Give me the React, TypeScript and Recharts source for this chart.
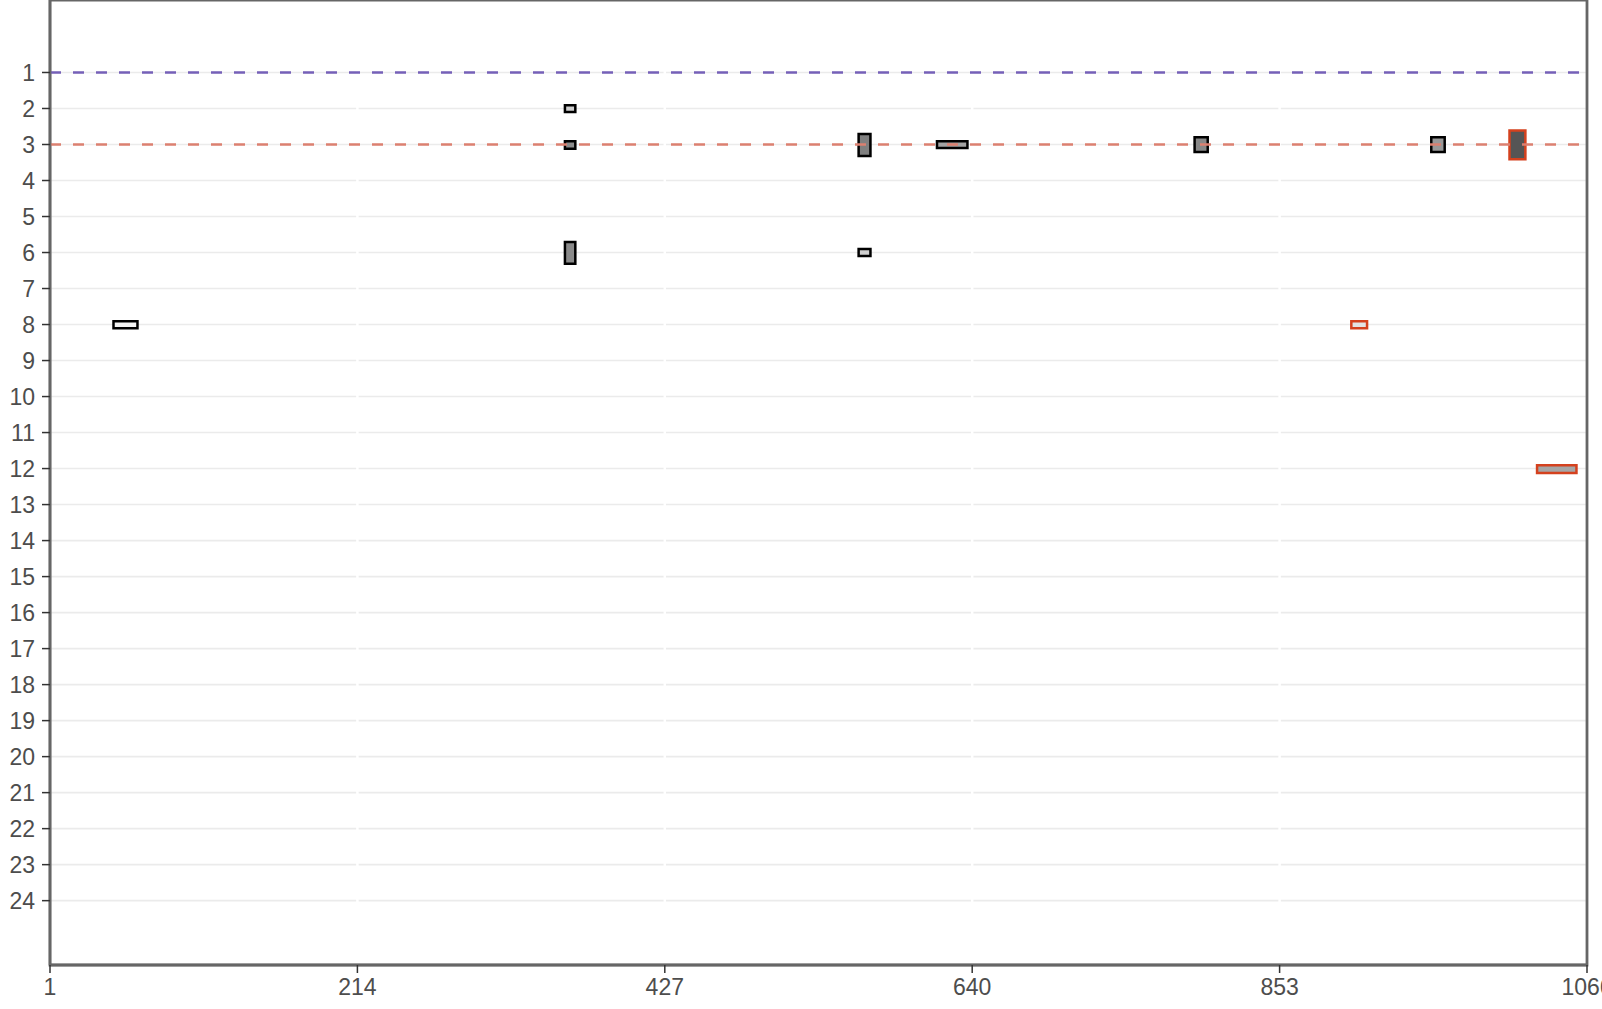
import React from 'react';
import { ComposedChart, XAxis, YAxis, CartesianGrid, ReferenceArea, ReferenceLine } from 'recharts';

const xTicks = [1, 214, 427, 640, 853, 1066];
const yTicks = [1, 2, 3, 4, 5, 6, 7, 8, 9, 10, 11, 12, 13, 14, 15, 16, 17, 18, 19, 20, 21, 22, 23, 24];
const xDomain = [1, 1066];
const yDomain = [-1.013, 25.787];

const boxStart = [45.0, 357.8, 357.8, 357.8, 561.3, 561.3, 615.6, 794.1, 958.1, 1012.3, 902.7, 1031.4];
const boxEnd = [61.6, 365.0, 365.0, 365.0, 569.5, 569.5, 636.7, 803.2, 967.4, 1023.3, 913.6, 1058.7];
const boxLow = [7.91, 1.91, 2.91, 5.71, 2.71, 5.9, 2.91, 2.8, 2.8, 2.61, 7.91, 11.91];
const boxHigh = [8.1, 2.1, 3.12, 6.31, 3.32, 6.1, 3.1, 3.21, 3.21, 3.41, 8.1, 12.12];
const boxFill = ['#f4f4f4', '#cfcfcf', '#8c8c8c', '#8a8a8a', '#7f7f7f', '#cfcfcf', '#a3a3a3', '#888888', '#999999', '#555555', '#e3e3e3', '#a6a6a6'];
const boxStroke = ['#000000', '#000000', '#000000', '#000000', '#000000', '#000000', '#000000', '#000000', '#000000', '#d4411e', '#d4411e', '#d4411e'];

const refLevels = [1, 3];
const refColors = ['#7560b8', '#dc8070'];

const boxes = boxStart.map((s, i) => ({
  x1: s,
  x2: boxEnd[i],
  y1: boxLow[i],
  y2: boxHigh[i],
  fill: boxFill[i],
  stroke: boxStroke[i],
}));

const tickStyle = { fill: '#4d4d4d', fontSize: 23, fontFamily: 'Liberation Sans, Arial, sans-serif' };

export default function App() {
  return (
    <div style={{ position: 'absolute', left: 0, top: 0, width: 1602, height: 1009, background: '#fff', overflow: 'hidden' }}>
      <ComposedChart width={1602} height={1009} data={boxes} margin={{ top: 0, right: 15, bottom: 0, left: 0 }}>
        <CartesianGrid xAxisId="b" yAxisId="l" horizontal={true} vertical={false} stroke="#ebebeb" strokeWidth={1.6} />
        <CartesianGrid xAxisId="b" yAxisId="l" horizontal={false} vertical={true} stroke="#ffffff" strokeWidth={2.5} />
        <XAxis
          xAxisId="b"
          type="number"
          dataKey="x1"
          domain={xDomain}
          ticks={xTicks}
          interval={0}
          allowDataOverflow
          height={44}
          tickSize={8}
          tickMargin={6}
          axisLine={{ stroke: '#666666', strokeWidth: 2.5 }}
          tickLine={{ stroke: '#333333', strokeWidth: 1.5 }}
          tick={tickStyle}
        />
        <YAxis
          yAxisId="l"
          type="number"
          domain={yDomain}
          reversed
          ticks={yTicks}
          interval={0}
          allowDataOverflow
          width={50}
          tickSize={8}
          tickMargin={7}
          axisLine={{ stroke: '#666666', strokeWidth: 2.5 }}
          tickLine={{ stroke: '#333333', strokeWidth: 1.5 }}
          tick={tickStyle}
        />
        <ReferenceArea
          xAxisId="b"
          yAxisId="l"
          x1={xDomain[0]}
          x2={xDomain[1]}
          y1={yDomain[0]}
          y2={yDomain[1]}
          fill="none"
          stroke="#666666"
          strokeWidth={2.8}
          ifOverflow="visible"
        />
        {boxes.map((b, i) => (
          <ReferenceArea
            key={'box' + i}
            xAxisId="b"
            yAxisId="l"
            x1={b.x1}
            x2={b.x2}
            y1={b.y1}
            y2={b.y2}
            fill={b.fill}
            fillOpacity={1}
            stroke={b.stroke}
            strokeWidth={2.5}
            ifOverflow="visible"
          />
        ))}
        {refLevels.map((v, i) => (
          <ReferenceLine
            key={'ref' + i}
            xAxisId="b"
            yAxisId="l"
            y={v}
            stroke={refColors[i]}
            strokeWidth={2.3}
            strokeDasharray="11 12"
          />
        ))}
      </ComposedChart>
    </div>
  );
}
